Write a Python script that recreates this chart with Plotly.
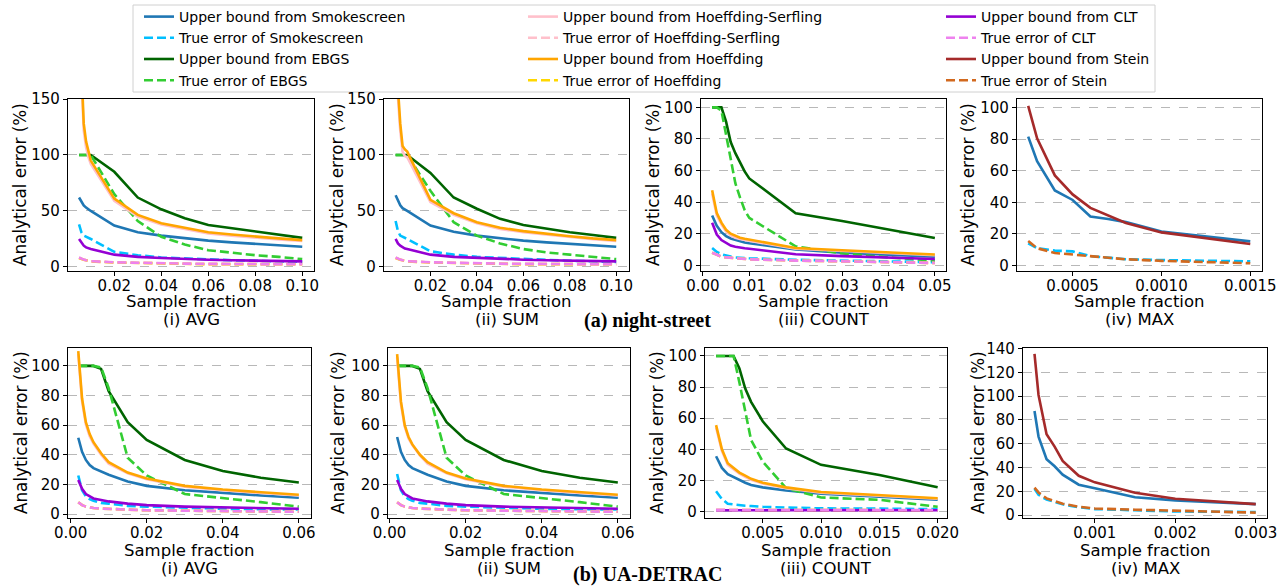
import plotly.graph_objects as go

W, H = 1285, 588

# ---------------- data ----------------
# (a) night-street : AVG
x_ns_avg = [0.005, 0.006, 0.007, 0.008, 0.009, 0.01, 0.02, 0.03, 0.04, 0.05, 0.06, 0.07, 0.08, 0.09, 0.1]
ns_avg_smoke_ub = [62, 58, 55, 53, 51.5, 50, 37, 31, 28, 25.5, 23.5, 22, 20.5, 19.2, 18]
ns_avg_smoke_te = [38, 31, 28, 27, 26, 25, 13.5, 10.5, 8.5, 7.5, 6.5, 6, 5.5, 5, 4.5]
ns_avg_ebgs_ub = [100, 100, 100, 100, 100, 100, 85, 62, 51.5, 43.5, 37.5, 34.5, 31.5, 28.5, 26]
ns_avg_ebgs_te = [100, 100, 100, 100, 100, 100, 65, 41, 27, 20, 15, 12.5, 10.5, 9, 7]
ns_avg_hs_ub = [220, 162, 122, 107, 98, 92, 59, 45, 38, 34, 30, 28, 26, 24.5, 23.2]
ns_avg_hs_te = [8, 7, 6.5, 6, 5.5, 5, 4, 3.5, 3, 3, 2.5, 2.5, 2.5, 2.5, 2.5]
ns_avg_h_ub = [230, 170, 128, 112, 103, 95, 61, 46.5, 39, 35, 31, 29, 27, 25.5, 24]
ns_avg_h_te = [8, 7, 6.5, 6, 5.5, 5, 4, 3.5, 3, 3, 2.5, 2.5, 2.5, 2.5, 2.5]
ns_avg_clt_ub = [25, 21.5, 19, 17.5, 16.5, 16, 11, 9, 8, 7, 6.5, 6, 5.5, 5.2, 5]
ns_avg_clt_te = [8.5, 7.2, 6.6, 6, 5.5, 5.2, 4.2, 3.6, 3.2, 3, 2.8, 2.6, 2.5, 2.5, 2.4]

# (a) night-street : SUM
x_ns_sum = [0.005, 0.006, 0.007, 0.008, 0.009, 0.01, 0.02, 0.03, 0.04, 0.05, 0.06, 0.07, 0.08, 0.09, 0.1]
ns_sum_smoke_ub = [64, 59, 55, 52.5, 51, 50, 37, 31.5, 28, 25.5, 23.5, 22, 20.5, 19.2, 18]
ns_sum_smoke_te = [41, 32, 28, 27, 26, 25, 14, 11, 9, 8, 7, 6, 5.5, 5, 4.5]
ns_sum_ebgs_ub = [100, 100, 100, 100, 100, 100, 84, 62, 52, 43, 37.5, 34, 31, 28.5, 26]
ns_sum_ebgs_te = [100, 100, 100, 100, 100, 100, 68, 40, 28, 21, 16, 13, 11, 9, 7]
ns_sum_hs_ub = [220, 152, 122, 103, 99, 98, 58, 46.5, 39, 34, 31, 28.8, 26.8, 24.8, 23.2]
ns_sum_hs_te = [8, 7, 6.5, 6, 5.5, 5, 4, 3.5, 3, 3, 2.5, 2.5, 2.5, 2.5, 2.5]
ns_sum_h_ub = [230, 160, 128, 108, 105, 103, 60, 48, 40, 35, 32, 29.5, 27.5, 25.5, 24]
ns_sum_h_te = [8, 7, 6.5, 6, 5.5, 5, 4, 3.5, 3, 3, 2.5, 2.5, 2.5, 2.5, 2.5]
ns_sum_clt_ub = [25, 21, 19, 17.5, 16.5, 16, 11, 9, 8, 7, 6.5, 6, 5.5, 5.2, 5]
ns_sum_clt_te = [8.5, 7.2, 6.6, 6, 5.5, 5.2, 4.2, 3.6, 3.2, 3, 2.8, 2.6, 2.5, 2.5, 2.4]

# (a) night-street : COUNT
x_ns_cnt = [0.002, 0.003, 0.004, 0.005, 0.006, 0.007, 0.008, 0.009, 0.01, 0.02, 0.03, 0.04, 0.05]
ns_cnt_smoke_ub = [31.5, 25, 21, 18.5, 17, 16, 15, 14.5, 14, 10, 8, 6.8, 5.5]
ns_cnt_smoke_te = [11, 8.5, 7, 6, 5.5, 5, 4.8, 4.6, 4.5, 3.5, 3, 2.5, 2]
ns_cnt_ebgs_ub = [100, 100, 100, 91, 78, 71, 65, 59.5, 55, 33, 28, 22.5, 17.3]
ns_cnt_ebgs_te = [100, 100, 98, 82, 66, 52, 43, 35, 30, 12, 7.5, 5, 3]
ns_cnt_hs_ub = [45.5, 31.5, 26, 21.5, 19, 17.5, 16.7, 16, 15.5, 10.5, 9, 7.6, 6.4]
ns_cnt_hs_te = [8, 6.5, 5.5, 5, 4.7, 4.4, 4.2, 4, 3.8, 3, 2.5, 2, 1.5]
ns_cnt_h_ub = [47.5, 33, 27, 22.5, 20, 18.5, 17.5, 16.8, 16.3, 11, 9.5, 8, 6.8]
ns_cnt_h_te = [8, 6.5, 5.5, 5, 4.7, 4.4, 4.2, 4, 3.8, 3, 2.5, 2, 1.5]
ns_cnt_clt_ub = [27, 19.5, 16, 14, 12.5, 11.8, 11.2, 10.8, 10.5, 7, 5.8, 4.8, 4]
ns_cnt_clt_te = [8, 6.5, 5.5, 5, 4.7, 4.4, 4.2, 4, 3.8, 3, 2.5, 2, 1.5]

# (a) night-street : MAX
x_ns_max = [0.00025, 0.0003, 0.0004, 0.0005, 0.0006, 0.0007, 0.0008, 0.0009, 0.001, 0.0015]
ns_max_smoke_ub = [81.5, 66, 47.5, 41.5, 31, 29.5, 27.5, 24.5, 21.5, 15.3]
ns_max_smoke_te = [14, 11, 9.5, 9, 6, 5, 4, 3.8, 3.5, 2.7]
ns_max_stein_ub = [101, 80.5, 57, 45, 36.5, 31.5, 27, 24, 21, 13.7]
ns_max_stein_te = [15.5, 11, 8, 7, 6, 5, 4, 3.5, 3, 1.5]

# (b) UA-DETRAC : AVG
x_ua_avg = [0.002, 0.003, 0.004, 0.005, 0.006, 0.008, 0.01, 0.015, 0.02, 0.03, 0.04, 0.05, 0.06]
ua_avg_smoke_ub = [51.5, 42, 36.5, 33, 31, 28.5, 26.5, 22, 19, 16, 14, 12.5, 11]
ua_avg_smoke_te = [26, 16, 12, 10, 9, 7.5, 7, 5.5, 5, 4, 3.5, 3.2, 3]
ua_avg_ebgs_ub = [100, 100, 100, 100, 100, 98, 83, 62, 50, 36.5, 29, 24.5, 21.3]
ua_avg_ebgs_te = [100, 100, 100, 100, 100, 99, 85, 38, 26, 13.5, 11, 8, 5]
ua_avg_hs_ub = [108, 76, 60.5, 52.5, 47.5, 40, 34, 27.5, 23.5, 18.5, 16, 14, 12.5]
ua_avg_hs_te = [8, 6, 5, 4.5, 4, 3.7, 3.5, 3, 2.5, 2.2, 2, 1.8, 1.5]
ua_avg_h_ub = [110, 78, 62, 54, 48.5, 41, 35, 28, 24, 19, 16.5, 14.5, 13]
ua_avg_h_te = [8, 6, 5, 4.5, 4, 3.7, 3.5, 3, 2.5, 2.2, 2, 1.8, 1.5]
ua_avg_clt_ub = [23, 17, 13.5, 12, 10.5, 9.5, 8.5, 7, 6, 5, 4.5, 4, 3.5]
ua_avg_clt_te = [8, 6, 5, 4.5, 4, 3.7, 3.5, 3, 2.5, 2.2, 2, 1.8, 1.5]

# (b) UA-DETRAC : SUM
x_ua_sum = [0.002, 0.003, 0.004, 0.005, 0.006, 0.008, 0.01, 0.015, 0.02, 0.03, 0.04, 0.05, 0.06]
ua_sum_smoke_ub = [52, 42, 36.5, 33, 31, 28.5, 26.5, 22, 19, 16, 14, 12.5, 11]
ua_sum_smoke_te = [27, 16, 12, 10, 9, 7.5, 7, 5.5, 5, 4, 3.5, 3.2, 3]
ua_sum_ebgs_ub = [100, 100, 100, 100, 100, 98, 83, 62, 50, 36.5, 29, 24.5, 21.3]
ua_sum_ebgs_te = [100, 100, 100, 100, 100, 99, 85, 38, 26, 13.5, 11, 8, 5]
ua_sum_hs_ub = [106, 74, 59, 51, 46.5, 39.5, 34, 27.5, 23.5, 18.5, 16, 14, 12.5]
ua_sum_hs_te = [8, 6, 5, 4.5, 4, 3.7, 3.5, 3, 2.5, 2.2, 2, 1.8, 1.5]
ua_sum_h_ub = [108, 76, 60, 52, 47, 40, 35, 28, 24, 19, 16.5, 14.5, 13]
ua_sum_h_te = [8, 6, 5, 4.5, 4, 3.7, 3.5, 3, 2.5, 2.2, 2, 1.8, 1.5]
ua_sum_clt_ub = [23, 17, 13.5, 12, 10.5, 9.5, 8.5, 7, 6, 5, 4.5, 4, 3.5]
ua_sum_clt_te = [8, 6, 5, 4.5, 4, 3.7, 3.5, 3, 2.5, 2.2, 2, 1.8, 1.5]

# (b) UA-DETRAC : COUNT
x_ua_cnt = [0.001, 0.0015, 0.002, 0.0025, 0.003, 0.0035, 0.004, 0.005, 0.007, 0.01, 0.015, 0.02]
ua_cnt_smoke_ub = [35.5, 28, 24, 22, 20, 18.5, 17, 15.5, 13.5, 11.5, 9.5, 7.5]
ua_cnt_smoke_te = [13, 8, 5, 4.5, 4, 3.7, 3.5, 3, 2.5, 2, 1.8, 1.5]
ua_cnt_ebgs_ub = [100, 100, 100, 100, 92, 79, 70.5, 58, 40.5, 30, 23.5, 15.6]
ua_cnt_ebgs_te = [100, 100, 100, 100, 83, 64, 46, 32, 15, 9, 7.5, 3]
ua_cnt_hs_ub = [54, 39, 30, 27, 24.3, 22.3, 20.4, 18, 15, 12, 10, 8.2]
ua_cnt_hs_te = [0.9, 1.1, 1.0, 0.9, 0.9, 0.9, 0.8, 0.8, 0.8, 0.8, 0.8, 0.8]
ua_cnt_h_ub = [55.5, 40, 31, 28, 25, 23, 21, 18.5, 15.5, 12.5, 10.5, 8.5]
ua_cnt_h_te = [0.9, 1.1, 1.0, 0.9, 0.9, 0.9, 0.8, 0.8, 0.8, 0.8, 0.8, 0.8]
ua_cnt_clt_ub = [0.8, 0.8, 0.8, 0.8, 0.8, 0.8, 0.8, 0.8, 0.8, 0.8, 0.8, 0.8]
ua_cnt_clt_te = [1.0, 1.2, 1.0, 0.9, 0.9, 0.9, 0.9, 0.9, 0.9, 0.9, 0.9, 0.9]

# (b) UA-DETRAC : MAX
x_ua_max = [0.00025, 0.0003, 0.0004, 0.0005, 0.0006, 0.0008, 0.001, 0.0015, 0.002, 0.003]
ua_max_smoke_ub = [87.5, 66, 47, 41, 34, 25.5, 22.5, 15, 12.3, 9.2]
ua_max_smoke_te = [22, 17, 13, 11, 9, 6.5, 5, 4, 3, 2.5]
ua_max_stein_ub = [135.5, 101, 68, 57.5, 45.5, 33, 27.5, 18.7, 13.7, 9.2]
ua_max_stein_te = [23, 19, 14, 11.5, 9.5, 7, 5.5, 4.5, 3.5, 2]

# tick labels
xt_ns_avg = [0.02, 0.04, 0.06, 0.08, 0.10]
xt_ns_cnt = [0.00, 0.01, 0.02, 0.03, 0.04, 0.05]
xt_ns_max = [0.0005, 0.0010, 0.0015]
xt_ua_avg = [0.00, 0.02, 0.04, 0.06]
xt_ua_cnt = [0.005, 0.010, 0.015, 0.020]
xt_ua_max = [0.001, 0.002, 0.003]
yt_150 = [0, 50, 100, 150]
yt_100 = [0, 20, 40, 60, 80, 100]
yt_140 = [0, 20, 40, 60, 80, 100, 120, 140]

panel_titles = ["(i) AVG", "(ii) SUM", "(iii) COUNT", "(iv) MAX"]
dataset_titles = ["(a) night-street", "(b) UA-DETRAC"]

# ---------------- styling ----------------
DASH = "9px,4px"
SERIES = [
    ("smoke_ub", "Upper bound from Smokescreen", "#1f77b4", "solid", "legend", 1),
    ("smoke_te", "True error of Smokescreen", "#00bfff", DASH, "legend", 2),
    ("ebgs_ub", "Upper bound from EBGS", "#006400", "solid", "legend", 3),
    ("ebgs_te", "True error of EBGS", "#32cd32", DASH, "legend", 4),
    ("hs_ub", "Upper bound from Hoeffding-Serfling", "#ffc0cb", "solid", "legend2", 5),
    ("hs_te", "True error of Hoeffding-Serfling", "#ffc0cb", DASH, "legend2", 6),
    ("h_ub", "Upper bound from Hoeffding", "#ffa500", "solid", "legend2", 7),
    ("h_te", "True error of Hoeffding", "#ffd700", DASH, "legend2", 8),
    ("clt_ub", "Upper bound from CLT", "#9400d3", "solid", "legend3", 9),
    ("clt_te", "True error of CLT", "#ee82ee", DASH, "legend3", 10),
    ("stein_ub", "Upper bound from Stein", "#a52a2a", "solid", "legend3", 11),
    ("stein_te", "True error of Stein", "#d2691e", DASH, "legend3", 12),
]

g = globals()
panels = [
    # prefix, x, xdomain(px), ydomain(px), xrange, yrange, xticks, tickfmt, yticks, ytitle_x
    ("ns_avg", x_ns_avg, (68, 314), (99, 271), [0.0003, 0.105], [-3.6, 150], xt_ns_avg, "{:.2f}", yt_150, 20),
    ("ns_sum", x_ns_sum, (384, 629), (99, 271), [0.0, 0.1055], [-3.6, 150], xt_ns_avg, "{:.2f}", yt_150, 337),
    ("ns_cnt", x_ns_cnt, (701, 946), (99, 271), [-0.0004, 0.0524], [-3.6, 105.3], xt_ns_cnt, "{:.2f}", yt_100, 653),
    ("ns_max", x_ns_max, (1017, 1262), (99, 271), [0.000187, 0.001566], [-3.4, 105.3], xt_ns_max, "{:.4f}", yt_100, 968),
    ("ua_avg", x_ua_avg, (68, 311), (348, 518), [-0.0007, 0.0632], [-2.7, 112.1], xt_ua_avg, "{:.2f}", yt_100, 21),
    ("ua_sum", x_ua_sum, (388, 630), (348, 518), [-0.0004, 0.0632], [-2.7, 112.1], xt_ua_avg, "{:.2f}", yt_100, 338),
    ("ua_cnt", x_ua_cnt, (705, 947), (348, 518), [0.00005, 0.0208], [-4.2, 105.1], xt_ua_cnt, "{:.3f}", yt_100, 657),
    ("ua_max", x_ua_max, (1023, 1267), (348, 518), [0.000107, 0.00314], [-2.5, 140.5], xt_ua_max, "{:.3f}", yt_140, 978),
]

FONT = "DejaVu Sans"
fig = go.Figure()
layout = dict(
    width=W, height=H, margin=dict(l=0, r=0, t=0, b=0),
    paper_bgcolor="white", plot_bgcolor="white",
    font=dict(family=FONT, color="black", size=15),
    showlegend=True,
)
annotations = []
seen = set()

for i, (pre, xs, xd, yd, xr, yr, xt, fmt, yt, ytx) in enumerate(panels):
    n = i + 1
    sfx = "" if n == 1 else str(n)
    for key, name, color, dash, leg, rank in SERIES:
        vname = f"{pre}_{key}"
        if vname not in g:
            continue
        show = key not in seen
        seen.add(key)
        fig.add_trace(go.Scatter(
            x=xs, y=g[vname], mode="lines", name=name,
            line=dict(color=color, width=2.6, dash=dash),
            xaxis="x" + sfx, yaxis="y" + sfx,
            legendgroup=key, showlegend=show, legend=leg, legendrank=rank,
        ))
    axcommon = dict(
        showline=True, linecolor="black", linewidth=1.2, mirror=True,
        ticks="outside", ticklen=4, tickwidth=1, tickcolor="black",
        zeroline=False, automargin=False,
        tickfont=dict(family=FONT, size=15, color="black"),
    )
    layout["xaxis" + sfx] = dict(
        axcommon, domain=[xd[0] / W, xd[1] / W], range=xr, anchor="y" + sfx,
        showgrid=False, tickmode="array", tickvals=xt,
        ticktext=[fmt.format(v) for v in xt], ticklabelstandoff=-3,
    )
    layout["yaxis" + sfx] = dict(
        axcommon, domain=[1 - yd[1] / H, 1 - yd[0] / H], range=yr, anchor="x" + sfx,
        showgrid=True, gridcolor="#b8b8b8", gridwidth=0.8, griddash="dash",
        tickmode="array", tickvals=yt, ticktext=[str(v) for v in yt],
    )
    cx = (xd[0] + xd[1]) / 2 / W
    row_top = yd[0] < 200
    y_sf = 301 if row_top else 550
    y_pt = 319 if row_top else 568
    annotations.append(dict(text="Sample fraction", x=cx, y=1 - y_sf / H, xref="paper", yref="paper",
                            showarrow=False, xanchor="center", yanchor="middle",
                            font=dict(family=FONT, size=16.5, color="black")))
    annotations.append(dict(text=panel_titles[i % 4], x=cx, y=1 - y_pt / H, xref="paper", yref="paper",
                            showarrow=False, xanchor="center", yanchor="middle",
                            font=dict(family=FONT, size=16.5, color="black")))
    annotations.append(dict(text="Analytical error (%)", x=ytx / W, y=1 - (yd[0] + yd[1]) / 2 / H,
                            xref="paper", yref="paper", showarrow=False, textangle=-90,
                            xanchor="center", yanchor="middle",
                            font=dict(family=FONT, size=16.8, color="black")))

for txt, yy in zip(dataset_titles, [320, 574]):
    annotations.append(dict(text=f"<b>{txt}</b>", x=647 / W, y=1 - yy / H, xref="paper", yref="paper",
                            showarrow=False, xanchor="center", yanchor="middle",
                            font=dict(family="Liberation Serif", size=20, color="black")))

legcommon = dict(orientation="v", xanchor="left", yanchor="top", y=1 - 1 / H,
                 bgcolor="rgba(0,0,0,0)", borderwidth=0, tracegroupgap=0,
                 font=dict(family=FONT, size=14, color="black"))
layout["legend"] = dict(legcommon, x=139 / W)
layout["legend2"] = dict(legcommon, x=523 / W)
layout["legend3"] = dict(legcommon, x=941 / W)
layout["annotations"] = annotations
layout["shapes"] = [dict(type="rect", xref="paper", yref="paper",
                         x0=133 / W, x1=1155 / W, y0=1 - 92 / H, y1=1 - 5 / H,
                         line=dict(color="#d0d0d0", width=1), fillcolor="rgba(0,0,0,0)", layer="below")]
fig.update_layout(layout)
fig.write_html("out.html", config={"displayModeBar": False},
               post_script="document.body.style.margin='0px';")
